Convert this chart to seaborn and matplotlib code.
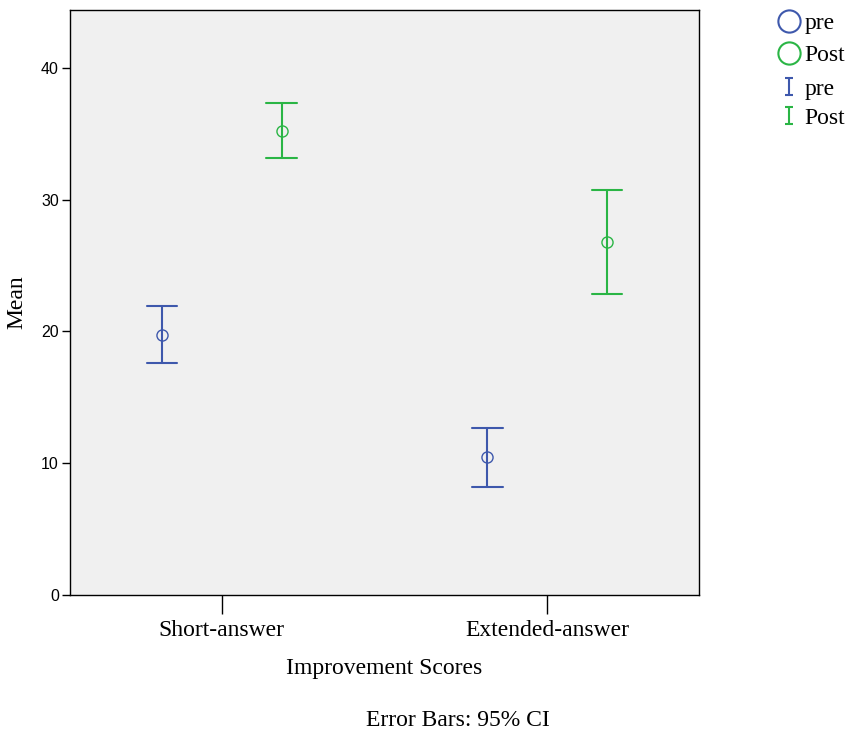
import numpy as np
import pandas as pd
import matplotlib
matplotlib.use("Agg")
import matplotlib.pyplot as plt
from matplotlib.lines import Line2D
from matplotlib.legend_handler import HandlerErrorbar
import seaborn as sns

categories = ["Short-answer", "Extended-answer"]
groups = ["pre", "Post"]
means = {"pre": [19.76, 10.46], "Post": [35.25, 26.80]}
ci_low = {"pre": [17.59, 8.20], "Post": [33.20, 22.85]}
ci_high = {"pre": [21.94, 12.66], "Post": [37.33, 30.75]}
y_ticks = [0, 10, 20, 30, 40]

blue = "#3E58AC"
green = "#2AB545"
palette = {"pre": blue, "Post": green}

rows = []
for g in groups:
    for i, c in enumerate(categories):
        for v in (ci_low[g][i], means[g][i], ci_high[g][i]):
            rows.append({"Improvement Scores": c, "Time": g, "Mean": v})
df = pd.DataFrame(rows)

sns.set_theme(style="white")
plt.rcParams["font.family"] = ["Liberation Serif", "DejaVu Serif"]
plt.rcParams["text.color"] = "black"
plt.rcParams["axes.labelcolor"] = "black"
plt.rcParams["xtick.color"] = "black"
plt.rcParams["ytick.color"] = "black"

fig = plt.figure(figsize=(8.51, 7.36), dpi=100)
ax = fig.add_axes([70 / 851, 1 - 595 / 736, (699 - 70) / 851, (595 - 10) / 736])
ax.set_facecolor("#F0F0F0")

sns.pointplot(
    data=df, x="Improvement Scores", y="Mean", hue="Time",
    order=categories, hue_order=groups, palette=palette,
    estimator=np.median, errorbar=lambda v: (np.min(v), np.max(v)),
    dodge=0.368, linestyle="none", marker="o", markersize=8,
    markeredgewidth=1.0, linewidth=1.5, capsize=0.094,
    err_kws={"linewidth": 1.5}, legend=False, ax=ax,
)
for ln in ax.lines:
    ln.set_markerfacecolor("none")

e1 = ax.errorbar([np.nan], [np.nan], yerr=[np.nan], fmt="none", ecolor=blue, capsize=3, elinewidth=1.5, capthick=1.5)
e2 = ax.errorbar([np.nan], [np.nan], yerr=[np.nan], fmt="none", ecolor=green, capsize=3, elinewidth=1.5, capthick=1.5)

ax.set_xlim(-0.466, 1.466)
ax.set_ylim(0, 44.4)
ax.set_yticks(y_ticks)
ax.set_yticklabels([str(t) for t in y_ticks], fontfamily="Liberation Sans", fontsize=11.5)
for lab in ax.get_xticklabels():
    lab.set_fontsize(17)
ax.tick_params(axis="x", length=14, width=1, color="black", pad=4, bottom=True)
ax.tick_params(axis="y", length=6, width=1, color="black", pad=2, left=True)
for s in ax.spines.values():
    s.set_color("black")
    s.set_linewidth(1.0)

ax.set_xlabel("Improvement Scores", fontsize=17, labelpad=12)
ax.set_ylabel("Mean", fontsize=17, labelpad=10)

fig.text(458 / 851, 1 - 721 / 736, "Error Bars: 95% CI", ha="center", va="center", fontsize=17)

# legends
h1 = Line2D([], [], linestyle="none", marker="o", markersize=16, markerfacecolor="none",
            markeredgecolor=blue, markeredgewidth=1.5)
h2 = Line2D([], [], linestyle="none", marker="o", markersize=16, markerfacecolor="none",
            markeredgecolor=green, markeredgewidth=1.5)
leg1 = fig.legend([h1, h2], groups, loc="upper left",
                  bbox_to_anchor=(762 / 851, 1 + 4 / 736), frameon=False, fontsize=17,
                  handlelength=0.9, handletextpad=0.2, labelspacing=0.45, borderpad=0.2,
                  handleheight=0.7)
leg2 = fig.legend([e1, e2], groups, loc="upper left",
                  bbox_to_anchor=(762 / 851, 1 - 62 / 736), frameon=False, fontsize=17,
                  handlelength=0.9, handletextpad=0.2, labelspacing=0.3, borderpad=0.2,
                  handleheight=0.7,
                  handler_map={type(e1): HandlerErrorbar(xerr_size=0.3, yerr_size=0.36)})

fig.savefig("out.png", dpi=100)
